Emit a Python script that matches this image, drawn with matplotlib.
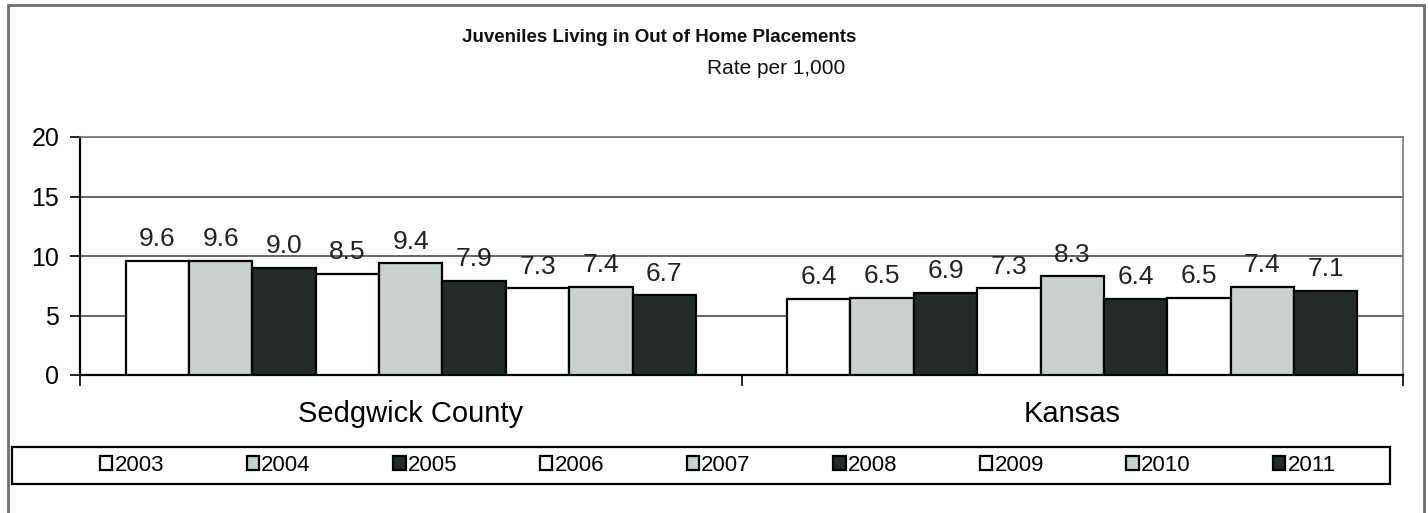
import matplotlib.pyplot as plt
import numpy as np
from matplotlib.patches import Rectangle

plt.rcParams['font.family'] = ['Liberation Sans', 'DejaVu Sans']

regions = ['Sedgwick County', 'Kansas']
years = ['2003', '2004', '2005', '2006', '2007', '2008', '2009', '2010', '2011']
sedgwick = [9.6, 9.6, 9.0, 8.5, 9.4, 7.9, 7.3, 7.4, 6.7]
kansas = [6.4, 6.5, 6.9, 7.3, 8.3, 6.4, 6.5, 7.4, 7.1]
yticks = [0, 5, 10, 15, 20]

# white / light grey / near black, repeating every three years
fills = ['#ffffff', '#c9d1d0', '#232b29'] * 3

fig = plt.figure(figsize=(14.28, 5.13), dpi=100)
ax = fig.add_axes([80 / 1428, 1 - 375 / 513, (1403 - 80) / 1428, (375 - 137) / 513])

x = np.arange(len(regions))
w = 0.0958
for i, yr in enumerate(years):
    vals = [sedgwick[i], kansas[i]]
    pos = x + (i - 4) * w
    ax.bar(pos, vals, width=w, color=fills[i], edgecolor='black',
           linewidth=1.6, label=yr, zorder=3)
    for px, v in zip(pos, vals):
        ax.text(px, v + 0.8, f'{v:.1f}', ha='center', va='bottom',
                fontsize=19, color='#222222', zorder=4)

ax.set_xlim(-0.5, 1.5)
ax.set_ylim(0, 20)
ax.set_yticks(yticks)
ax.yaxis.grid(True, color='#4a4a4a', linewidth=1.2, zorder=1)
ax.set_axisbelow(True)
ax.tick_params(axis='y', labelsize=18, length=7, width=1.2, pad=8, colors='black')

ax.set_xticks(x)
ax.set_xticklabels(regions, fontsize=21)
ax.tick_params(axis='x', length=0, pad=18)
ax.set_xticks([-0.5, 0.5, 1.5], minor=True)
ax.tick_params(axis='x', which='minor', length=8, width=1.2)

for side in ['left', 'bottom']:
    ax.spines[side].set_color('black')
    ax.spines[side].set_linewidth(1.6)
for side in ['top', 'right']:
    ax.spines[side].set_color('#777777')
    ax.spines[side].set_linewidth(1.2)

fig.text(659 / 1428, 1 - 37 / 513, 'Juveniles Living in Out of Home Placements',
         ha='center', va='center', fontsize=13.5, fontweight='bold', color='#111111')
fig.text(845 / 1428, 1 - 68 / 513, 'Rate per 1,000', ha='right', va='center',
         fontsize=15, color='#111111')

# outer border and legend box
fig.patches.append(Rectangle((8 / 1428, -0.1), 1416 / 1428, 1.1 - 5 / 513,
                             transform=fig.transFigure, fill=False,
                             edgecolor='#707070', linewidth=2))
fig.patches.append(Rectangle((12 / 1428, 1 - 484 / 513), (1390 - 12) / 1428, 37 / 513,
                             transform=fig.transFigure, fill=False,
                             edgecolor='black', linewidth=1.6))

handles, labels = ax.get_legend_handles_labels()
fig.legend(handles, labels, loc='center', ncol=9, frameon=False,
           bbox_to_anchor=(718 / 1428, 1 - 465.5 / 513), fontsize=16,
           handlelength=0.55, handleheight=0.55, handletextpad=0.1,
           columnspacing=3.72)

fig.savefig('out.png', dpi=100)
